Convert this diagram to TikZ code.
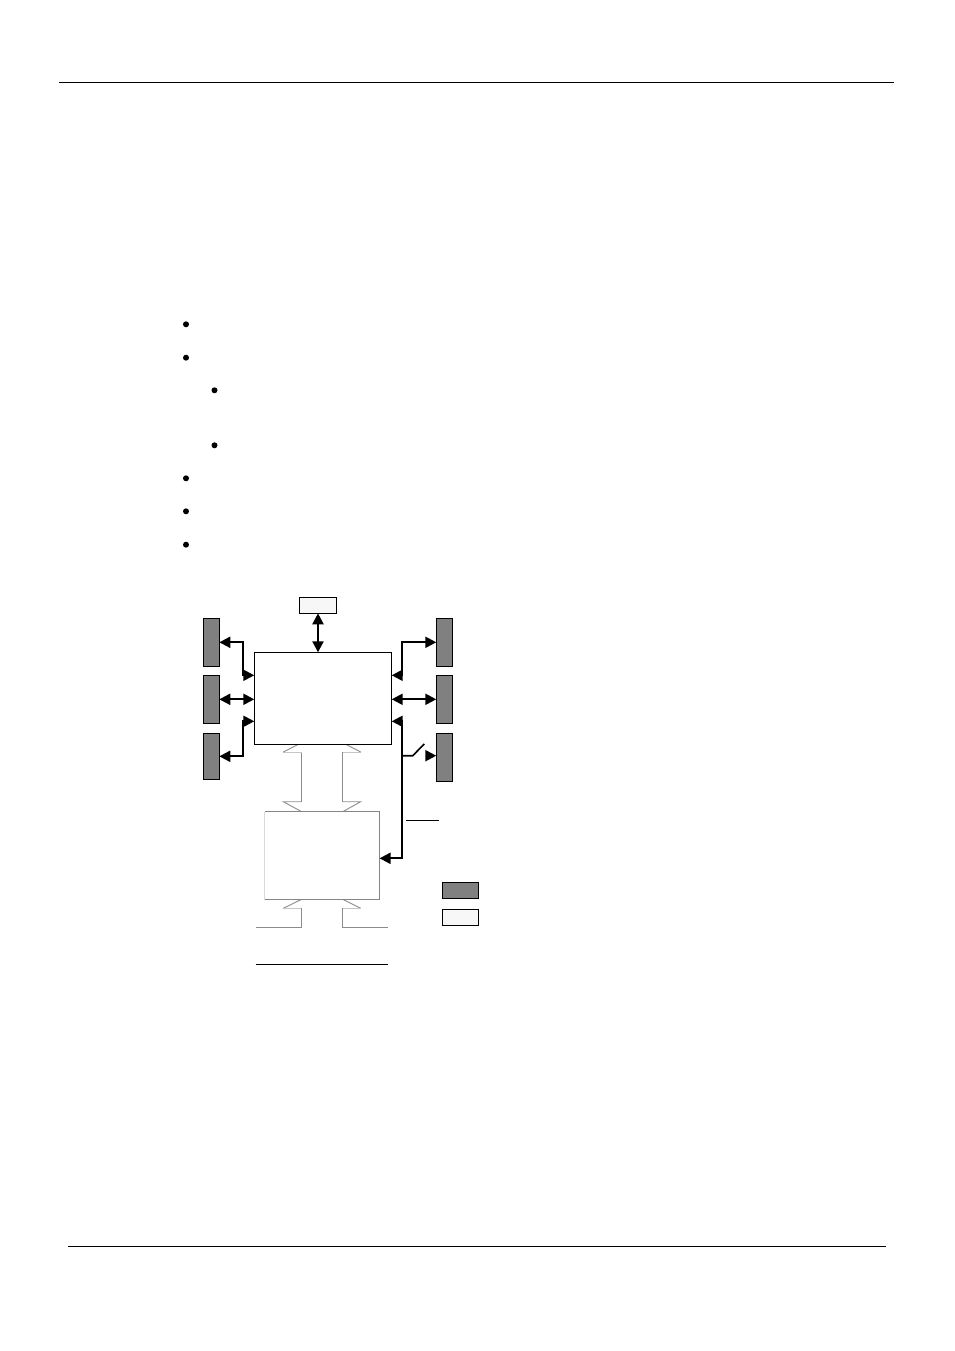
\documentclass[tikz,border=0pt]{standalone}
\usetikzlibrary{arrows.meta,calc}
\begin{document}
\begin{tikzpicture}[x=1pt,y=-1pt,
  box/.style={draw=black,line width=1pt,inner sep=0pt,outer sep=0pt},
  darkbox/.style={box,fill=gray},
  lightbox/.style={box,fill=gray!6},
  dbl/.style={line width=2.1pt,{Triangle[length=11pt,width=11pt]}-{Triangle[length=11pt,width=11pt]}},
  sgl/.style={line width=2.1pt,-{Triangle[length=11pt,width=11pt]}},
  hollow/.style={draw=gray!90,line width=0.9pt},
  hollowlt/.style={draw=gray!45,line width=0.9pt},
  rule/.style={line width=1.2pt},
  bullet/.style={circle,fill=black,inner sep=0pt,minimum size=6pt}]
\useasboundingbox (0,0) rectangle (954,1351);
% header / footer rules
\coordinate (h1) at (59,82.3); \coordinate (h2) at (893.7,82.3);
\coordinate (f1) at (68.3,1246.3); \coordinate (f2) at (885.7,1246.3);
\draw[rule] (h1) -- (h2);
\draw[rule] (f1) -- (f2);
% bullets
\node[bullet] (b1) at (186,324.3) {};
\node[bullet] (b2) at (186,357.7) {};
\node[bullet] (b3) at (214.5,390.3) {};
\node[bullet] (b4) at (214.5,445.3) {};
\node[bullet] (b5) at (186,478.3) {};
\node[bullet] (b6) at (186,511.3) {};
\node[bullet] (b7) at (186,544.7) {};
% hollow bus arrows between main and lower box
\draw[hollow] (301.7,752) -- (301.7,801.7);
\draw[hollow] (342.7,752) -- (342.7,801.7);
\draw[hollowlt] (283.3,752) -- (301.7,752);
\draw[hollowlt] (360.7,752) -- (342.7,752);
\draw[hollow] (283.3,752) -- (301.7,742.7);
\draw[hollow] (360.7,752) -- (342.7,742.7);
\draw[hollow] (301.7,801.7) -- (283.3,801.7) -- (301.7,811.7);
\draw[hollow] (342.7,801.7) -- (360.7,801.7) -- (342.7,811.7);
% bus below lower box
\draw[hollow] (301.7,899.3) -- (283.3,908.3);
\draw[hollowlt] (283.3,908.3) -- (301.7,908.3);
\draw[hollow] (301.7,908.3) -- (301.7,927.3) -- (255.7,927.3);
\draw[hollow] (342.7,899.3) -- (360.7,908.3);
\draw[hollowlt] (360.7,908.3) -- (342.7,908.3);
\draw[hollow] (342.7,908.3) -- (342.7,927.3) -- (388.3,927.3);
% boxes
\node[lightbox,minimum width=37.4pt,minimum height=16pt] (top) at (318,605.3) {};
\node[box,fill=white,minimum width=137.4pt,minimum height=92pt] (main) at (323,698.3) {};
\node[darkbox,minimum width=16pt,minimum height=48pt] (L1) at (211.3,642.3) {};
\node[darkbox,minimum width=16pt,minimum height=48pt] (L2) at (211.3,699.3) {};
\node[darkbox,minimum width=16pt,minimum height=46pt] (L3) at (211.3,756.3) {};
\node[darkbox,minimum width=16pt,minimum height=48pt] (R1) at (444.3,642.3) {};
\node[darkbox,minimum width=16pt,minimum height=48pt] (R2) at (444.3,699.3) {};
\node[darkbox,minimum width=16pt,minimum height=47.7pt] (R3) at (444.3,757.2) {};
\node[inner sep=0pt,fill=white,minimum width=114.3pt,minimum height=87.6pt] (lower) at (322.2,855.5) {};
\draw[gray!95,line width=0.9pt] (lower.north west) -- (lower.north east) -- (lower.south east) -- (lower.south west);
\draw[gray!30,line width=0.9pt] (lower.south west) -- (lower.north west);
\node[darkbox,minimum width=36pt,minimum height=16pt] (legD) at (460.3,890.3) {};
\node[lightbox,minimum width=36pt,minimum height=16pt] (legL) at (460.3,917.3) {};
% connector anchor points
\coordinate (mA) at ($(main.north west)+(0,23)$);
\coordinate (mC) at ($(main.north west)+(0,69)$);
\coordinate (nA) at ($(main.north east)+(0,23)$);
\coordinate (nC) at ($(main.north east)+(0,69)$);
\coordinate (lowE) at ($(lower.east)+(0,2.8)$);
\coordinate (sw) at (402.3,755.7);
% connectors
\draw[dbl] (top.south) -- (top.south |- main.north);
\draw[dbl] (L1.east) -| ($(mA)+(-11.6,0)$) -- (mA);
\draw[dbl] (L2.east) -- (L2.east -| main.west);
\draw[dbl] (L3.east) -| ($(mC)+(-11.6,0)$) -- (mC);
\draw[dbl] (R1.west) -| ($(nA)+(10.6,0)$) -- (nA);
\draw[dbl] (R2.west) -- (R2.west -| main.east);
\draw[dbl] (nC) -- ($(nC)+(10.6,0)$) |- (lowE);
% switch to R3
\draw[line width=1.6pt] (sw) -- ++(10.4,0) -- ++(11.6,-11.7);
\coordinate (swA) at (425.5,755.7);
\draw[sgl] (swA) -- (R3.west |- sw);
% underlines
\coordinate (u1) at (406,820.7); \coordinate (u2) at (439,820.7);
\draw[line width=1pt] (u1) -- (u2);
\coordinate (v1) at (255.7,964.3); \coordinate (v2) at (388.3,964.3);
\draw[line width=1pt] (v1) -- (v2);
\end{tikzpicture}
\end{document}
